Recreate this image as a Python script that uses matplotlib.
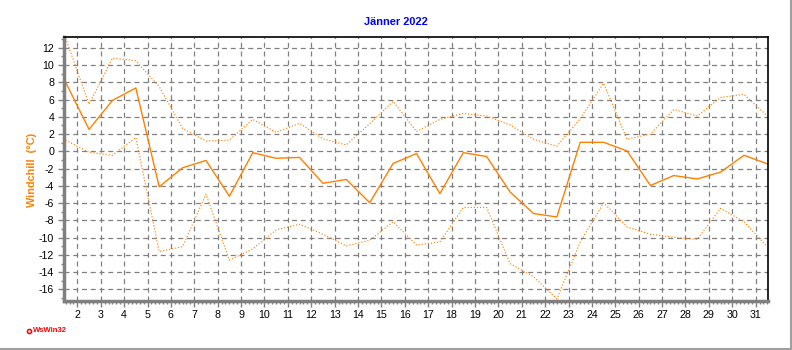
import numpy as np
import matplotlib
matplotlib.use('Agg')
import matplotlib.pyplot as plt
from matplotlib.lines import Line2D
from matplotlib.ticker import MultipleLocator

# Windchill per day, January 2022 (mean, max, min)
days = np.arange(1, 32)
wc_mean = [8.0, 2.55, 5.9, 7.35, -4.1, -1.9, -1.05, -5.2, -0.15, -0.8,
           -0.7, -3.7, -3.25, -5.95, -1.4, -0.25, -4.9, -0.15, -0.6, -4.7,
           -7.2, -7.6, 1.05, 1.05, 0.05, -3.95, -2.8, -3.2, -2.4, -0.45,
           -1.45]
wc_max = [13.1, 5.45, 10.8, 10.5, 7.5, 2.65, 1.2, 1.3, 3.7, 2.2,
          3.25, 1.45, 0.75, 3.2, 5.8, 2.3, 3.7, 4.4, 4.1, 3.05,
          1.4, 0.6, 3.8, 7.9, 1.4, 2.0, 4.85, 4.1, 6.25, 6.6,
          4.1]
wc_min = [1.3, -0.1, -0.45, 1.6, -11.6, -11.05, -4.95, -12.6, -11.3, -9.1,
          -8.45, -9.6, -10.95, -10.3, -8.15, -10.85, -10.5, -6.5, -6.5, -13.0,
          -14.5, -17.1, -10.5, -5.95, -8.75, -9.6, -9.95, -10.2, -6.6, -8.15,
          -11.05]
y_ticks = np.arange(-16, 13, 2)
x_ticks = np.arange(2, 32)

orange = '#ff8000'
grey = '#808080'

plt.rcParams['font.family'] = ['Liberation Sans', 'DejaVu Sans']

fig = plt.figure(figsize=(7.92, 3.5), dpi=100)
ax = fig.add_axes([64 / 792, 1 - 300.7 / 350, (768.3 - 64) / 792, (300.7 - 37) / 350])

# values belong to the day, drawn in the middle of the day slot
xpos = days + 0.5
ax.plot(xpos, wc_max, color=orange, lw=0.85, ls=(0, (1, 1.6)))
ax.plot(xpos, wc_mean, color=orange, lw=1)
ax.plot(xpos, wc_min, color=orange, lw=0.85, ls=(0, (1, 1.6)))

ax.set_xlim(1.43, 31.54)
ax.set_ylim(-17.3, 13.25)
ax.set_xticks(x_ticks)
ax.set_xticklabels([str(d) for d in x_ticks])
ax.set_yticks(y_ticks)
ax.set_yticklabels([str(v) for v in y_ticks])
ax.xaxis.set_minor_locator(MultipleLocator(1 / 6))
ax.yaxis.set_minor_locator(MultipleLocator(1))

ax.grid(True, which='major', color=grey, ls=(0, (4, 3)), lw=0.9)
ax.tick_params(which='major', length=4, width=1, color=grey, labelsize=7.7, pad=3)
ax.tick_params(which='minor', length=2, width=1, color=grey)

for side in ['left', 'bottom']:
    ax.spines[side].set_color(grey)
    ax.spines[side].set_linewidth(2.5)
for side in ['top', 'right']:
    ax.spines[side].set_color('black')
    ax.spines[side].set_linewidth(1.2)

fig.text(396 / 792, 1 - 22 / 350, 'Jänner 2022', color='#0000ff', fontsize=7.9,
         fontweight='bold', ha='center', va='center')
fig.text(32 / 792, 1 - 170 / 350, 'Windchill  (°C)', color=orange, fontsize=7.8,
         fontweight='bold', rotation=90, ha='center', va='center')

# program stamp
fig.add_artist(Line2D([29 / 792], [1 - 331 / 350], marker='o', ms=3, mfc='white',
                      mec='#ff0000', mew=1.1, transform=fig.transFigure))
fig.text(33 / 792, 1 - 331 / 350, 'WsWin32', color='#ff0000', fontsize=5.5,
         fontweight='bold', ha='left', va='center')

# frame shadow
fig.add_artist(Line2D([790.5 / 792, 790.5 / 792], [1 - 349 / 350, 1], color='#a0a0a0',
                      lw=1.5, transform=fig.transFigure))
fig.add_artist(Line2D([0, 790.5 / 792], [1 - 349 / 350, 1 - 349 / 350], color='#a0a0a0',
                      lw=1.5, transform=fig.transFigure))

fig.savefig('out.png', dpi=100)
